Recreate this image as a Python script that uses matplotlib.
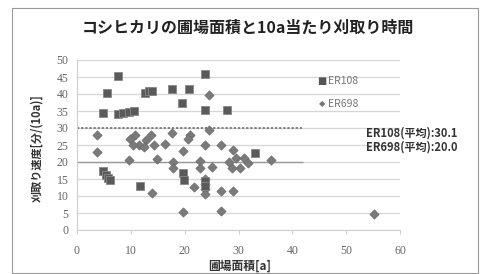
import matplotlib
matplotlib.use("Agg")
import matplotlib.pyplot as plt
from matplotlib.patches import Rectangle

plt.rcParams['font.family'] = ['Noto Sans CJK JP', 'DejaVu Sans']

# ER108 (squares)
er108_x = [4.9, 5.5, 7.6, 7.6, 8.6, 9.6, 10.6, 12.6, 13.4, 14.0, 17.7, 20.8, 19.5,
           23.8, 23.8, 27.9, 4.8, 5.3, 5.8, 6.2, 11.7, 19.6, 19.8, 23.8, 23.8, 33.0]
er108_y = [34.4, 40.3, 45.2, 34.0, 34.3, 34.6, 35.0, 40.4, 40.8, 41.0, 41.5, 41.5, 37.5,
           46.0, 35.3, 35.3, 17.5, 16.2, 15.3, 14.8, 13.0, 16.8, 14.8, 14.5, 12.8, 22.6]

# ER698 (diamonds)
er698_x = [3.7, 3.7, 9.8, 10.7, 11.6, 12.8, 13.7, 14.3, 12.5, 10.4, 16.3, 17.6, 21.0,
           20.6, 24.6, 23.7, 26.8, 24.6, 9.6, 14.8, 17.8, 17.8, 19.6, 22.8, 22.8, 25.0,
           13.9, 21.8, 23.7, 23.7, 23.7, 23.7, 26.8, 28.9, 19.6, 26.8, 28.9, 29.6, 28.3,
           28.7, 30.2, 31.1, 31.7, 36.1, 55.2]
er698_y = [28.0, 22.8, 26.9, 28.0, 25.0, 26.5, 28.0, 25.0, 24.3, 25.0, 25.2, 28.5, 28.0,
           26.8, 29.4, 25.0, 25.0, 39.7, 20.6, 21.0, 20.0, 18.2, 23.2, 20.3, 18.2, 18.5,
           10.9, 12.6, 15.0, 13.5, 12.0, 10.5, 11.5, 11.5, 5.3, 5.6, 23.5, 21.2, 20.0,
           18.2, 18.2, 21.2, 19.7, 20.6, 4.8]

mean_108 = 30.1
mean_698 = 20.0

fig = plt.figure(figsize=(4.84, 2.74), dpi=100)
fig.patches.append(Rectangle((12 / 484, 1 / 274), 466 / 484, 265 / 274, transform=fig.transFigure,
                             fill=False, edgecolor='#9a9a9a', linewidth=0.8))
ax = fig.add_axes([77 / 484, 1 - 230 / 274, 323 / 484, 170 / 274])

ax.set_xlim(0, 60)
ax.set_ylim(0, 50)
ax.set_xticks(range(0, 61, 10))
ax.set_yticks(range(0, 51, 5))
ax.yaxis.grid(True, color='#d6d6d6', linewidth=0.9)
ax.set_axisbelow(True)
for s in ['top', 'right']:
    ax.spines[s].set_visible(False)
for s in ['left', 'bottom']:
    ax.spines[s].set_color('#cfcfcf')
ax.tick_params(axis='y', length=0, pad=6)
ax.tick_params(axis='x', length=3, color='#cfcfcf', pad=8)
for lab in ax.get_xticklabels() + ax.get_yticklabels():
    lab.set_family('Liberation Serif')
    lab.set_fontsize(8.5)
    lab.set_color('#666666')

ax.hlines(mean_108, 0, 42, colors='#666666', linestyles=(0, (1.5, 1.2)), linewidth=1.1)
ax.hlines(mean_698, 0, 42, colors='#999999', linewidth=1.0)

ax.scatter(er698_x, er698_y, marker='D', s=22, color='#7a7a7a', edgecolors='#6a6a6a',
           linewidths=0.5, zorder=3)
ax.scatter(er108_x, er108_y, marker='s', s=38, color='#5a5a5a', edgecolors='#888888',
           linewidths=0.6, zorder=4)

# legend
fig.text(322 / 484, 1 - 81 / 274, '■', fontsize=7, color='#555555', ha='center', va='center',
         family='DejaVu Sans')
fig.text(328 / 484, 1 - 81 / 274, 'ER108', fontsize=7.5, color='#777777', va='center')
fig.text(322 / 484, 1 - 104 / 274, '◆', fontsize=6, color='#777777', ha='center', va='center',
         family='DejaVu Sans')
fig.text(328 / 484, 1 - 104 / 274, 'ER698', fontsize=7.5, color='#777777', va='center')

fig.text(366 / 484, 1 - 133 / 274, 'ER108(平均):30.1', fontsize=8, fontweight='bold',
         color='#333333', va='center')
fig.text(366 / 484, 1 - 147 / 274, 'ER698(平均):20.0', fontsize=8, fontweight='bold',
         color='#333333', va='center')

fig.text(248 / 484, 1 - 28 / 274, 'コシヒカリの圃場面積と10a当たり刈取り時間', fontsize=11.5,
         fontweight='bold', color='#222222', ha='center', va='center')
fig.text(37 / 484, 1 - 148 / 274, '刈取り速度[分/(10a)]', fontsize=8, fontweight='bold',
         color='#333333', ha='center', va='center', rotation=90)
fig.text(240 / 484, 1 - 266 / 274, '圃場面積[a]', fontsize=8.5, fontweight='bold',
         color='#333333', ha='center', va='center')

fig.savefig('out.png', dpi=100)
